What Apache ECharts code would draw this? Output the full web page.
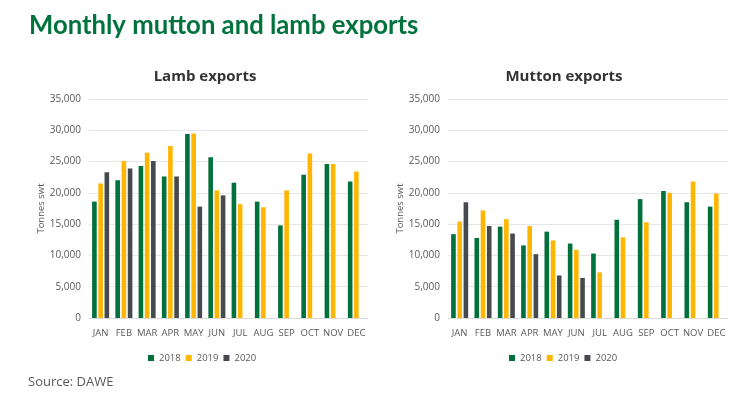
<!DOCTYPE html>
<html><head><meta charset="utf-8">
<script src="https://cdn.jsdelivr.net/npm/echarts@6/dist/echarts.min.js"></script>
<style>html,body{margin:0;padding:0;background:#fff}#c{width:740px;height:408px}</style>
</head><body><div id="c"></div>
<script>
var months = ['JAN','FEB','MAR','APR','MAY','JUN','JUL','AUG','SEP','OCT','NOV','DEC'];
var years = ['2018','2019','2020'];
var lamb2018 = [18600,22000,24300,22600,29400,25700,21600,18600,14800,22900,24600,21800];
var lamb2019 = [21500,25100,26400,27500,29500,20400,18200,17700,20400,26300,24600,23400];
var lamb2020 = [23300,23900,25100,22600,17800,19600,null,null,null,null,null,null];
var mutton2018 = [13400,12800,14600,11600,13800,11900,10300,15700,19000,20300,18500,17800];
var mutton2019 = [15400,17200,15800,14700,12400,10900,7300,12900,15300,20000,21800,19900];
var mutton2020 = [18500,14700,13500,10200,6800,6400,null,null,null,null,null,null];
var yTicks = [0,5000,10000,15000,20000,25000,30000,35000];

var colors = ['#00703C','#FFB600','#46494D'];
var chart = echarts.init(document.getElementById('c'));
var grey = '#595959';
function xAx(i){return {type:'category',gridIndex:i,data:months,axisTick:{show:false},
  axisLine:{lineStyle:{color:'#d9d9d9'}},axisLabel:{color:grey,fontSize:9.5,fontFamily:'Open Sans',margin:10,interval:0}};}
function yAx(i){return {type:'value',gridIndex:i,min:yTicks[0],max:yTicks[yTicks.length-1],interval:5000,
  name:'Tonnes swt',nameLocation:'middle',nameGap:i===0?11:29,nameTextStyle:{color:grey,fontSize:9.5,fontFamily:'Open Sans'},
  axisLabel:{color:grey,fontSize:10,fontFamily:'Open Sans',margin:8,formatter:function(v){return v.toLocaleString('en-US');}},
  splitLine:{lineStyle:{color:'#e6e6e6'}},axisLine:{show:false},axisTick:{show:false}};}
function ser(name,data,i,c){return {name:name,type:'bar',xAxisIndex:i,yAxisIndex:i,data:data,
  barWidth:4.6,barGap:'35%',itemStyle:{color:c}};}
var legText = {color:grey,fontSize:9.5,fontFamily:'Open Sans'};
chart.setOption({
  animation:false,
  textStyle:{fontFamily:'Open Sans'},
  title:[
    {text:'Monthly mutton and lamb exports',left:24,top:8,textStyle:{color:'#00733C',fontSize:25.7,fontWeight:'bold',fontFamily:'Lato'}},
    {text:'Lamb exports',left:200,textAlign:'center',top:64,textStyle:{color:'#333',fontSize:15,fontWeight:'bold',fontFamily:'Open Sans'}},
    {text:'Mutton exports',left:559,textAlign:'center',top:64,textStyle:{color:'#333',fontSize:15,fontWeight:'bold',fontFamily:'Open Sans'}}
  ],
  legend:[
    {data:years,left:143,top:348,itemWidth:6,itemHeight:6,itemGap:5,icon:'rect',textStyle:legText},
    {data:years,left:504,top:348,itemWidth:6,itemHeight:6,itemGap:5,icon:'rect',textStyle:legText}
  ],
  grid:[
    {left:89,right:372,top:99,bottom:90},
    {left:448,right:12,top:99,bottom:90}
  ],
  xAxis:[xAx(0),xAx(1)],
  yAxis:[yAx(0),yAx(1)],
  graphic:[{type:'text',left:28,top:376,style:{text:'Source: DAWE',fill:grey,fontSize:13,fontFamily:'Open Sans'}}],
  series:[
    ser(years[0],lamb2018,0,colors[0]),ser(years[1],lamb2019,0,colors[1]),ser(years[2],lamb2020,0,colors[2]),
    ser(years[0],mutton2018,1,colors[0]),ser(years[1],mutton2019,1,colors[1]),ser(years[2],mutton2020,1,colors[2])
  ]
});
</script></body></html>
